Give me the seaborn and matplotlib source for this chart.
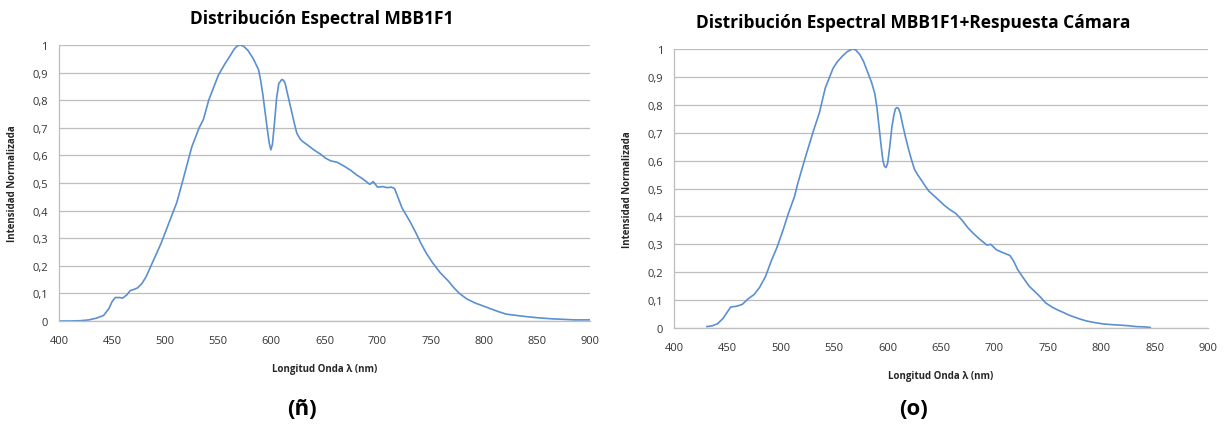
import matplotlib
matplotlib.use("Agg")
import matplotlib.pyplot as plt
import pandas as pd
import seaborn as sns

# curva izquierda: distribucion espectral MBB1F1
wl_left = [400, 410, 420, 428, 435, 442, 447, 450, 453, 457, 460, 464, 467, 471,
           474, 478, 482, 489, 496, 503, 511, 516, 525, 532, 536, 541, 546, 550,
           556, 561, 565, 568, 571, 574, 578, 583, 588, 590, 592, 594, 596, 598,
           599.5, 601, 603, 605, 607, 609.8, 611.5, 613, 616, 619, 622, 624, 627,
           629.6, 635, 640, 646, 651, 656, 662, 669, 675, 680, 686, 692.7, 696,
           700, 705, 709, 713, 716, 719, 723, 730.6, 736, 741, 746, 752, 759,
           766.6, 772, 777, 784, 792, 799, 806, 813, 821, 831, 842, 853, 864,
           875, 885.6, 900]
int_left = [0.0, 0.0, 0.001, 0.004, 0.01, 0.02, 0.045, 0.07, 0.085, 0.085, 0.083,
            0.095, 0.11, 0.115, 0.12, 0.135, 0.16, 0.22, 0.28, 0.35, 0.43, 0.5,
            0.63, 0.7, 0.73, 0.8, 0.85, 0.89, 0.93, 0.96, 0.985, 0.997, 1.0, 0.995,
            0.98, 0.95, 0.91, 0.87, 0.82, 0.76, 0.70, 0.645, 0.62, 0.64, 0.72,
            0.81, 0.86, 0.875, 0.872, 0.86, 0.81, 0.76, 0.71, 0.68, 0.66, 0.65,
            0.635, 0.62, 0.605, 0.59, 0.58, 0.575, 0.56, 0.545, 0.53, 0.515,
            0.495, 0.505, 0.485, 0.487, 0.483, 0.485, 0.48, 0.45, 0.41, 0.36,
            0.32, 0.28, 0.245, 0.21, 0.175, 0.145, 0.12, 0.10, 0.08, 0.065, 0.055,
            0.045, 0.035, 0.025, 0.02, 0.015, 0.011, 0.008, 0.006, 0.004, 0.004]

# curva derecha: MBB1F1 + respuesta camara
wl_right = [430.6, 436, 440.7, 446, 450, 453, 458.7, 464, 469.5, 475, 480, 485.7,
            491, 496.5, 502, 507, 512.7, 516, 523.6, 530.8, 536, 541.6, 548.8,
            553, 557.8, 562, 566.8, 570, 574, 577.5, 581, 585, 588, 590, 592, 594,
            595.6, 597, 598.5, 600, 602, 604, 605.7, 607.2, 608.6, 610.2, 611.8,
            614, 617, 620, 622.6, 625, 628, 631.6, 635, 638.8, 646, 653, 658, 664,
            670, 675, 680, 685.7, 693, 696.5, 702, 708, 714.5, 718, 721.7, 727,
            732.5, 738, 743.3, 748, 754, 759, 765, 770, 775.7, 781, 786.5, 793,
            801, 810, 819, 826, 833, 840, 846]
int_right = [0.005, 0.008, 0.015, 0.035, 0.058, 0.075, 0.078, 0.085, 0.105, 0.12,
             0.145, 0.185, 0.24, 0.29, 0.35, 0.41, 0.47, 0.52, 0.62, 0.71, 0.77,
             0.86, 0.93, 0.955, 0.975, 0.99, 1.0, 0.997, 0.98, 0.955, 0.92, 0.88,
             0.84, 0.79, 0.72, 0.65, 0.6, 0.58, 0.575, 0.59, 0.65, 0.72, 0.76,
             0.785, 0.79, 0.787, 0.77, 0.73, 0.68, 0.635, 0.6, 0.57, 0.55, 0.53,
             0.51, 0.49, 0.465, 0.44, 0.425, 0.41, 0.385, 0.36, 0.34, 0.32, 0.297,
             0.3, 0.28, 0.27, 0.26, 0.24, 0.21, 0.18, 0.15, 0.13, 0.11, 0.09,
             0.075, 0.065, 0.055, 0.046, 0.038, 0.031, 0.025, 0.02, 0.015, 0.012,
             0.01, 0.008, 0.005, 0.004, 0.002]

titles = ["Distribución Espectral MBB1F1",
          "Distribución Espectral MBB1F1+Respuesta Cámara"]
letters = ["(ñ)", "(o)"]
x_ticks = [400, 450, 500, 550, 600, 650, 700, 750, 800, 850, 900]
y_ticks = [0, 0.1, 0.2, 0.3, 0.4, 0.5, 0.6, 0.7, 0.8, 0.9, 1.0]
y_labels = ["0", "0,1", "0,2", "0,3", "0,4", "0,5", "0,6", "0,7", "0,8", "0,9", "1"]

sns.set_style("white")
plt.rcParams["font.family"] = ["Open Sans", "DejaVu Sans"]

line_color = "#5b8fd0"
grid_color = "#bdbdbd"

fig = plt.figure(figsize=(12.26, 4.27), dpi=100)
boxes = [[0.0481, 0.2459, 0.4331, 0.6464], [0.5498, 0.2295, 0.4355, 0.6534]]
title_x = [0.495, 0.448]
letter_x = [0.246, 0.745]
data = [(wl_left, int_left), (wl_right, int_right)]

for i, (box, (wl, inten)) in enumerate(zip(boxes, data)):
    ax = fig.add_axes(box)
    df = pd.DataFrame({"wl": wl, "int": inten})
    sns.lineplot(data=df, x="wl", y="int", ax=ax, color=line_color, linewidth=1.2)
    ax.set_xlim(400, 900)
    ax.set_ylim(0, 1)
    ax.set_xticks(x_ticks)
    ax.set_yticks(y_ticks)
    ax.set_yticklabels(y_labels)
    ax.tick_params(axis="both", length=0, labelsize=8, colors="#333333")
    ax.tick_params(axis="x", pad=10)
    ax.tick_params(axis="y", pad=8)
    ax.grid(axis="y", color=grid_color, linewidth=0.9)
    for side in ["top", "right"]:
        ax.spines[side].set_visible(False)
    for side in ["left", "bottom"]:
        ax.spines[side].set_color(grid_color)
        ax.spines[side].set_linewidth(0.9)
    ax.set_xlabel("Longitud Onda λ (nm)", fontsize=7, fontweight="bold", labelpad=12)
    ax.set_ylabel("Intensidad Normalizada", fontsize=7, fontweight="bold", labelpad=10)
    ax.set_title(titles[i], fontsize=12.5, fontweight="bold", color="black",
                 pad=16, x=title_x[i])
    fig.text(letter_x[i], 0.04, letters[i], ha="center", va="center",
             fontsize=16, fontweight="bold", color="black")

fig.savefig("out.png", dpi=100)
